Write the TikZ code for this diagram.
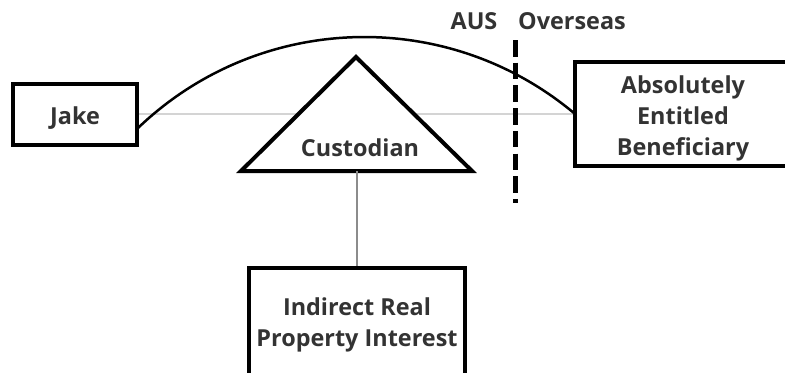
\documentclass[tikz,border=0pt]{standalone}
\usepackage{fontspec}
\setmainfont{Open Sans}
\definecolor{txt}{HTML}{333333}
\definecolor{lgray}{HTML}{D4D4D4}
\definecolor{mgray}{HTML}{8C8C8C}
\tikzset{
  lbl/.style={font=\fontsize{23.5}{31}\selectfont\bfseries, text=txt, align=center, inner sep=0pt, anchor=base},
  boxnode/.style={draw=black, line width=4bp, fill=white, inner sep=0pt},
}
\begin{document}
\begin{tikzpicture}[x=1bp,y=-1bp]
\useasboundingbox (0,0) rectangle (785,372);
% nodes
\node[boxnode, minimum width=124bp, minimum height=61bp] (jake) at (75,114) {};
\node[boxnode, minimum width=216bp, minimum height=104bp] (aeb) at (683,114) {};
\node[boxnode, minimum width=216bp, minimum height=110bp] (irpi) at (357,323) {};
% gray line behind triangle
\draw[lgray, line width=2bp] (jake.east) -- (aeb.west);
% triangle
\coordinate (apex) at (356,57);
\coordinate (bl) at (241,171);
\coordinate (br) at (472,171);
\coordinate (tribase) at (357,171);
\draw[line width=4bp, fill=white, line join=miter] (apex) -- (bl) -- (br) -- cycle;
\node[lbl] (cust) at (360,156) {Custodian};
% vertical connector
\draw[mgray, line width=2bp] (tribase) -- (irpi.north);
% arc
\coordinate (arcA) at (138,128);
\draw[line width=2.5bp] (arcA) arc[start angle=133.8, end angle=50.1, radius=327bp];
% texts
\node[lbl] (jaket) at (75,124) {Jake};
\node[lbl] (aebt) at (683,155) {Absolutely\\Entitled\\Beneficiary};
\node[lbl] (irpit) at (357,346) {Indirect Real\\Property Interest};
\node[lbl] (aus) at (474,29) {AUS};
\node[lbl] (ovs) at (572,29) {Overseas};
% dashed border line
\coordinate (dtop) at (515.5,40);
\coordinate (dbot) at (515.5,203);
\draw[line width=5bp, dash pattern=on 16.5bp off 6.2bp] (dtop) -- (dbot);
\end{tikzpicture}
\end{document}
